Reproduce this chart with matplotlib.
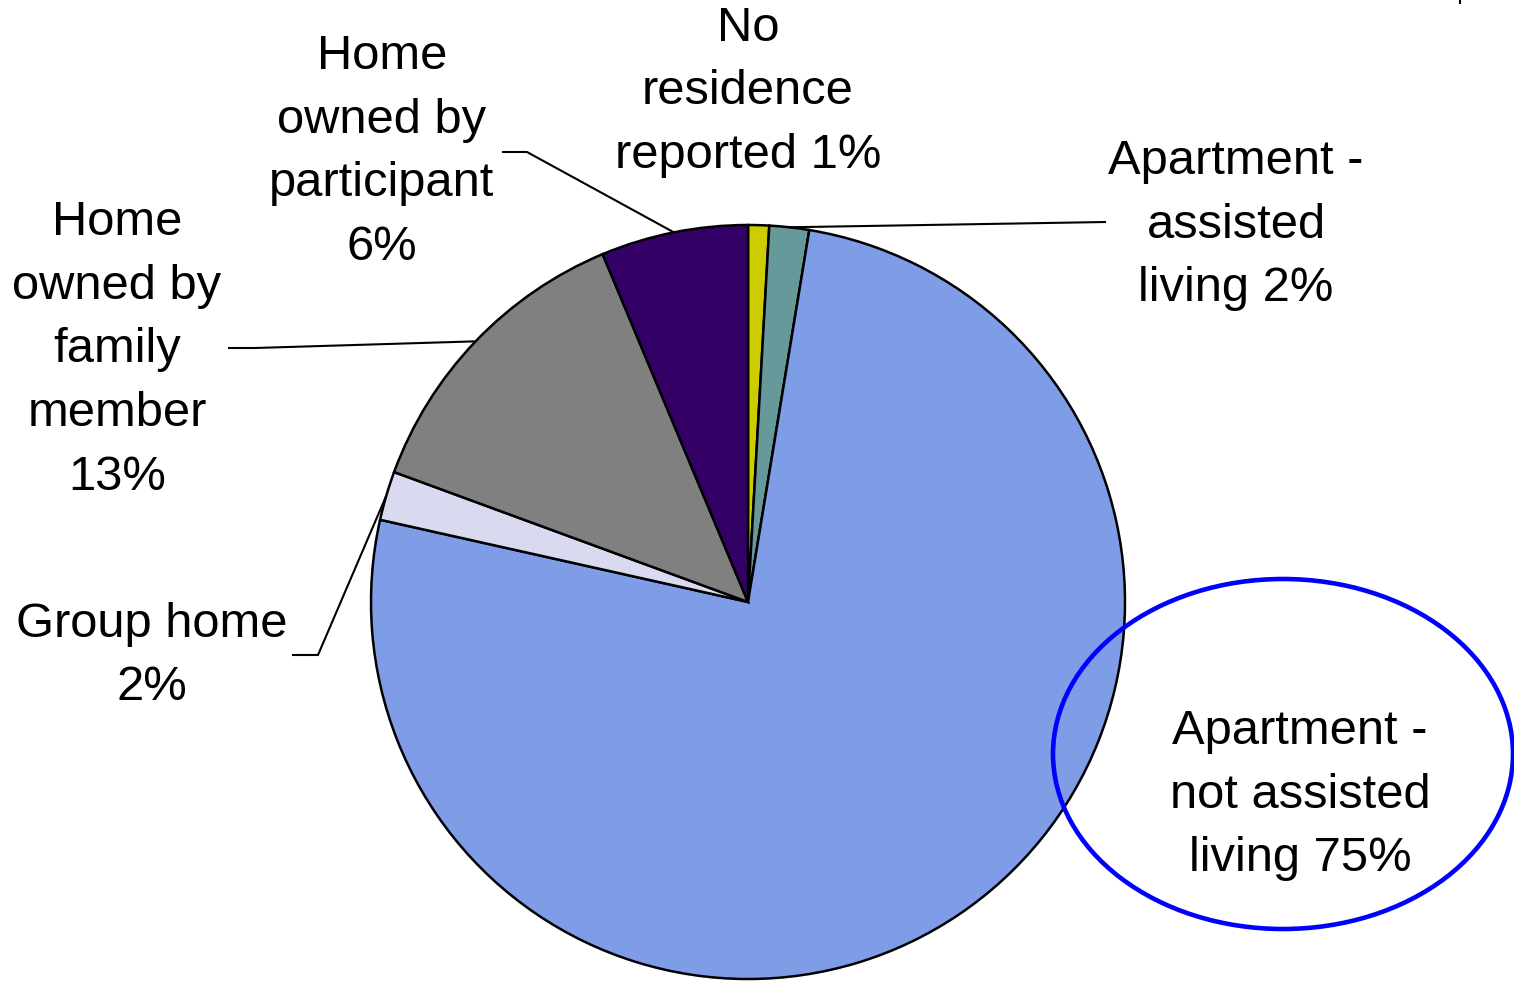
import numpy as np
import matplotlib
matplotlib.use("Agg")
import matplotlib.pyplot as plt
from matplotlib.patches import Ellipse

plt.rcParams['font.family'] = ['Liberation Sans', 'DejaVu Sans']

# Data (clockwise from 12 o'clock)
categories = ["No residence reported", "Apartment - assisted living",
              "Apartment - not assisted living", "Group home",
              "Home owned by family member", "Home owned by participant"]
values = [0.9, 1.7, 75.9, 2.1, 13.1, 6.3]
label_texts = ["No\nresidence\nreported 1%", "Apartment -\nassisted\nliving 2%",
               "Apartment -\nnot assisted\nliving 75%", "Group home\n2%",
               "Home\nowned by\nfamily\nmember\n13%", "Home\nowned by\nparticipant\n6%"]
colors = ["#CCCC00", "#669999", "#7F9CE6", "#D9DAF0", "#808080", "#330066"]
explode = [0.004, 0.004, 0.016, 0.004, 0.004, 0.004]

W, H = 1514, 981
fig = plt.figure(figsize=(W / 100, H / 100), dpi=100)
ax = fig.add_axes([0, 0, 1, 1])

cx, cy, R = 748, H - 602, 377
wedges, _ = ax.pie(values, colors=colors, startangle=90, counterclock=False,
                   center=(cx, cy), radius=R, explode=explode,
                   wedgeprops=dict(edgecolor="black", linewidth=1.8))
ax.set_xlim(0, W)
ax.set_ylim(0, H)
ax.set_aspect("equal")
ax.axis("off")

fs = 35.2
# label layout: (x, y center of text block in pixels from top)
label_pos = [(748, 92), (1236, 225), (1300, 795), (152, 656), (117, 350), (382, 152)]
for txt, (lx, ly) in zip(label_texts, label_pos):
    ax.text(lx, H - ly, txt, ha="center", va="center", fontsize=fs,
            linespacing=1.53, color="black")

# leader lines: elbow points (layout), end at wedge edge mid-angle
elbows = {1: [(1106, 222)], 3: [(292, 655), (318, 655)],
          4: [(228, 348), (255, 348)], 5: [(502, 152), (527, 152)]}
for i, pts in elbows.items():
    w = wedges[i]
    th = np.deg2rad((w.theta1 + w.theta2) / 2)
    ex = w.center[0] + w.r * np.cos(th)
    ey = w.center[1] + w.r * np.sin(th)
    xs = [p[0] for p in pts] + [ex]
    ys = [H - p[1] for p in pts] + [ey]
    ax.plot(xs, ys, color="black", lw=1.5, solid_capstyle="butt")

ax.add_patch(Ellipse((1283, H - 754), 460, 350, fill=False,
                     edgecolor="#0000FF", lw=3.3))
ax.plot([1460, 1460], [H, H - 3], color="black", lw=1.5)

fig.savefig("out.png", dpi=100)
